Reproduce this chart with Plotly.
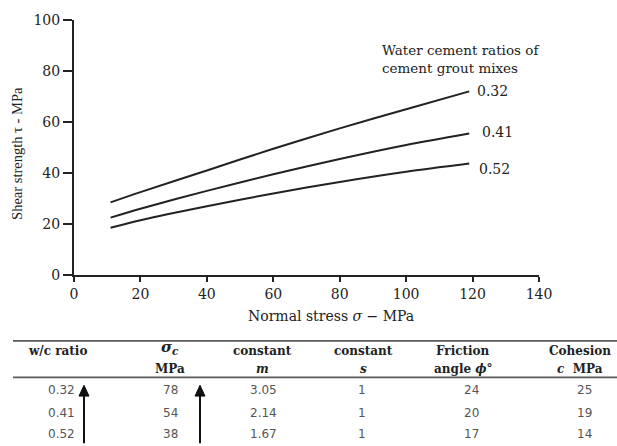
import plotly.graph_objects as go

# ---- curve data ----
normal_stress = [11, 20, 40, 60, 80, 100, 119]
shear_032 = [28.5, 32.5, 41, 49.5, 57.5, 65, 72]
shear_041 = [22.5, 26, 33, 39.5, 45.5, 51, 55.5]
shear_052 = [18.5, 21.5, 27, 32, 36.5, 40.5, 43.7]
series_names = ["0.32", "0.41", "0.52"]

x_ticks = [0, 20, 40, 60, 80, 100, 120, 140]
y_ticks = [0, 20, 40, 60, 80, 100]

# ---- table data ----
wc_ratio = ["0.32", "0.41", "0.52"]
sigma_c = ["78", "54", "38"]
const_m = ["3.05", "2.14", "1.67"]
const_s = ["1", "1", "1"]
friction = ["24", "20", "17"]
cohesion = ["25", "19", "14"]
headers = [
    ("<b>w/c ratio</b>", ""),
    ("<b><i>σ<sub>c</sub></i></b>", "<b>MPa</b>"),
    ("<b>constant</b>", "<b><i>m</i></b>"),
    ("<b>constant</b>", "<b><i>s</i></b>"),
    ("<b>Friction</b>", "<b>angle <i>ϕ</i>°</b>"),
    ("<b>Cohesion</b>", "<b><i>c</i>  MPa</b>"),
]

W, H = 617, 446
L, R, T, B = 74, 539, 16, 275  # plot box in pixels


def xp(px):
    return (px - L) / (R - L)


def yp(py):
    return (B - py) / (B - T)


SERIF = "DejaVu Serif, serif"
TSERIF = "Liberation Serif, Times New Roman, serif"
SANS = "DejaVu Sans, Verdana, sans-serif"
INK = "#222222"

fig = go.Figure()
ends = []
for name, ys in zip(series_names, [shear_032, shear_041, shear_052]):
    fig.add_trace(go.Scatter(x=normal_stress, y=ys, mode="lines", name=name,
                             line=dict(color=INK, width=2, shape="spline", smoothing=0.8),
                             showlegend=False, hoverinfo="skip"))
    ends.append((normal_stress[-1], ys[-1], name))

annotations = []
# curve end labels
label_dx = {"0.32": 1.8, "0.41": 3.2, "0.52": 2.4}
label_dy = {"0.32": 0, "0.41": 0.5, "0.52": -2.3}
for xe, ye, name in ends:
    annotations.append(dict(x=xe + label_dx[name], y=ye + label_dy[name], xref="x", yref="y",
                            text=name, showarrow=False, xanchor="left", yanchor="middle",
                            font=dict(family=SERIF, size=14, color=INK)))

annotations.append(dict(x=xp(380), y=yp(56), xref="paper", yref="paper",
                        text="Water cement ratios of<br>cement grout mixes",
                        showarrow=False, xanchor="left", yanchor="middle", align="left",
                        font=dict(family=SERIF, size=13.5, color=INK)))

# axis titles
annotations.append(dict(x=xp(331), y=yp(317), xref="paper", yref="paper",
                        text="Normal stress <i>σ</i> − MPa", showarrow=False,
                        xanchor="center", yanchor="middle",
                        font=dict(family=SERIF, size=14, color=INK)))
annotations.append(dict(x=xp(17), y=yp(152), xref="paper", yref="paper",
                        text="Shear strength τ - MPa", showarrow=False, textangle=-90,
                        xanchor="center", yanchor="middle",
                        font=dict(family=TSERIF, size=14.5, color=INK)))

# table
col_x = [57, 170, 262, 363, 463, 580]
data_x = [61, 170, 263, 362, 471, 584]
head_y1, head_y2 = 352, 370
row_y = [392, 415, 437]
for cx, (h1, h2) in zip(col_x, headers):
    is_sig = "σ" in h1
    annotations.append(dict(x=xp(cx), y=yp(349 if is_sig else head_y1), xref="paper", yref="paper",
                            text=h1, showarrow=False, xanchor="center", yanchor="middle",
                            font=dict(family=SERIF, size=15 if is_sig else 12, color=INK)))
    if h2:
        annotations.append(dict(x=xp(cx), y=yp(head_y2), xref="paper", yref="paper",
                                text=h2, showarrow=False, xanchor="center", yanchor="middle",
                                font=dict(family=SERIF, size=12, color=INK)))

columns = [wc_ratio, sigma_c, const_m, const_s, friction, cohesion]
for cx, col in zip(data_x, columns):
    for ry, val in zip(row_y, col):
        annotations.append(dict(x=xp(cx), y=yp(ry), xref="paper", yref="paper",
                                text=val, showarrow=False, xanchor="center", yanchor="middle",
                                font=dict(family=SANS, size=12, color="#555555")))

shapes = []
for ly in [342, 379]:
    shapes.append(dict(type="line", xref="paper", yref="paper",
                       x0=xp(13), x1=xp(617), y0=yp(ly), y1=yp(ly),
                       line=dict(color="#5a5a5a", width=1.8)))

# upward arrows in table (shaft + head)
for ax_px in [84, 200]:
    shapes.append(dict(type="line", xref="paper", yref="paper",
                       x0=xp(ax_px), x1=xp(ax_px), y0=yp(446), y1=yp(395),
                       line=dict(color="#111111", width=2)))
    path = "M {a},{b} L {c},{d} L {e},{f} Z".format(
        a=xp(ax_px - 5), b=yp(398), c=xp(ax_px + 5), d=yp(398), e=xp(ax_px), f=yp(387))
    shapes.append(dict(type="path", xref="paper", yref="paper", path=path,
                       fillcolor="#111111", line=dict(color="#111111", width=1)))

fig.update_layout(
    width=W, height=H,
    margin=dict(l=L, r=W - R, t=T, b=H - B),
    paper_bgcolor="white", plot_bgcolor="white",
    annotations=annotations, shapes=shapes,
    xaxis=dict(range=[0, 140], tickvals=x_ticks, showline=True, linecolor=INK, linewidth=2,
               ticks="outside", ticklen=5, tickwidth=2, tickcolor=INK, showgrid=False,
               zeroline=False, tickfont=dict(family=SERIF, size=14, color=INK)),
    yaxis=dict(range=[0, 100], tickvals=y_ticks, showline=True, linecolor=INK, linewidth=2,
               ticks="outside", ticklen=9, tickwidth=2, tickcolor=INK, showgrid=False,
               zeroline=False, tickfont=dict(family=SERIF, size=14, color=INK)),
)

fig.write_html("out.html")
